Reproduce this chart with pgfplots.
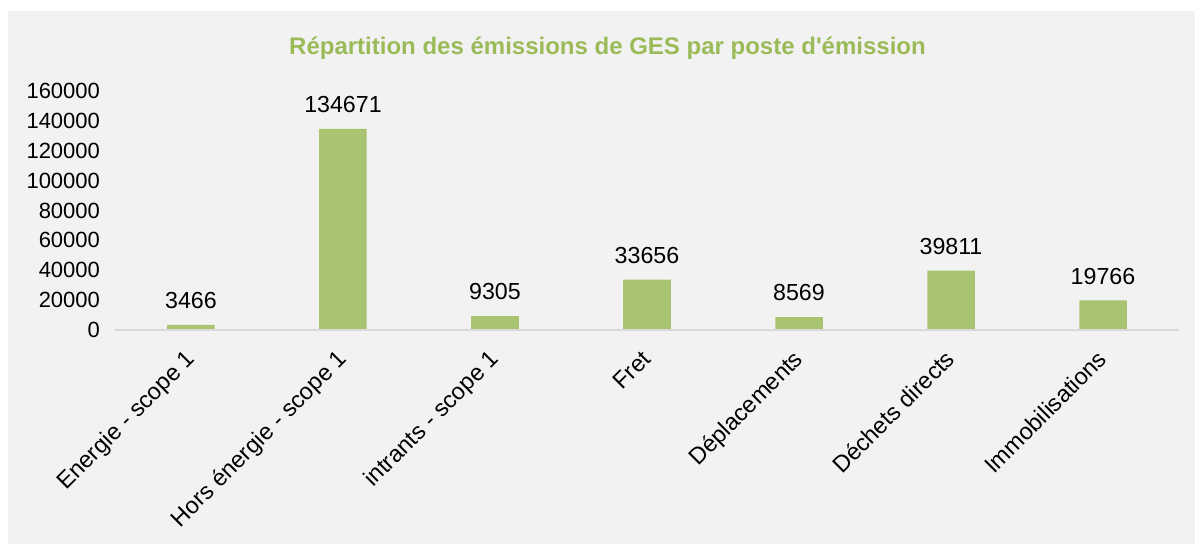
\documentclass[border=0pt]{standalone}
\usepackage{pgfplots}
\pgfplotsset{compat=1.18}
\usepackage{fontspec}
\setmainfont{Liberation Sans}
\definecolor{bg}{HTML}{F2F2F2}
\definecolor{barg}{RGB}{169,196,112}
\definecolor{titleg}{RGB}{155,187,89}
\definecolor{axl}{HTML}{D9D9D9}
\begin{document}
\begin{tikzpicture}
\useasboundingbox (0,0) rectangle (597.5pt,-272pt);
\fill[white] (0,0) rectangle (597.5pt,-272pt);
\fill[bg] (4pt,-5.5pt) rectangle (597.5pt,-272pt);
\node[font=\fontsize{12}{14}\selectfont\bfseries, text=titleg] at (303.75pt,-24pt) {Répartition des émissions de GES par poste d\textquotesingle émission};
\begin{axis}[
  at={(57.5pt,-165pt)}, anchor=south west,
  scale only axis, width=532pt, height=119.5pt,
  ybar, bar width=23.75pt,
  xmin=-0.5, xmax=6.5, ymin=0, ymax=160000,
  xtick=data,
  xticklabels={Energie - scope 1, Hors énergie - scope 1, intrants - scope 1, Fret, Déplacements, Déchets directs, Immobilisations},
  ytick={0,20000,...,160000},
  /pgf/number format/assume math mode=true,
  scaled y ticks=false,
  yticklabel style={font=\fontsize{11}{13}\selectfont, xshift=-4pt},
  yticklabel={\pgfmathprintnumber[fixed,1000 sep={}]{\tick}},
  xticklabel style={xshift=-2.5pt, yshift=-10pt, rotate=45, anchor=north east, inner sep=0pt, text height=0.72em, font=\fontsize{11.7}{13}\selectfont},
  major tick length=0pt,
  axis x line*=bottom,
  axis y line*=left,
  x axis line style={draw=none},
  y axis line style={draw=none},
  ytick style={draw=none}, xtick style={draw=none},
  nodes near coords,
  nodes near coords style={font=\fontsize{11.6}{14}\selectfont, text=black, /pgf/number format/fixed, /pgf/number format/1000 sep={}, yshift=4.5pt},
  clip=false,
]
\addplot[fill=barg, draw=none] coordinates {(0,3466) (1,134671) (2,9305) (3,33656) (4,8569) (5,39811) (6,19766)};
\draw[axl, line width=0.75pt] (axis cs:-0.5,0) -- (axis cs:6.5,0);
\end{axis}
\end{tikzpicture}
\end{document}
